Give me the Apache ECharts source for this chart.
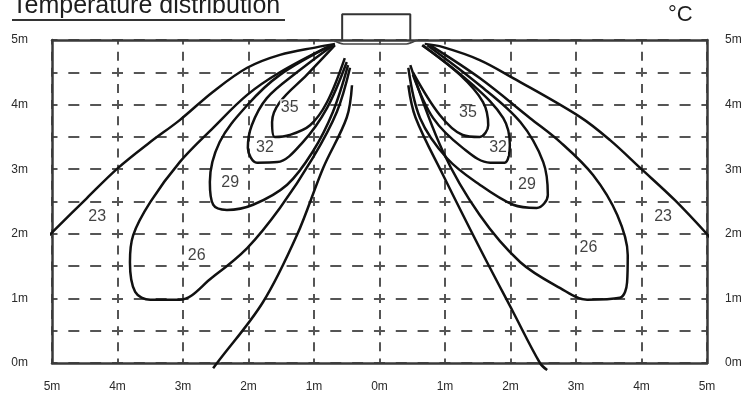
<!DOCTYPE html>
<html>
<head>
<meta charset="utf-8">
<script src="https://cdn.jsdelivr.net/npm/echarts@6/dist/echarts.min.js"></script>
<style>html,body{margin:0;padding:0;background:#fff}#c{width:745px;height:399px}</style>
</head>
<body>
<div id="c"></div>
<script>
// ---- tick labels ----
const xTickLabels = ['5m','4m','3m','2m','1m','0m','1m','2m','3m','4m','5m']; // -5..5
const yTickLabels = ['0m','1m','2m','3m','4m','5m'];

// ---- heater unit (data units, metres) ----
const heaterBox = [[-0.57,5.0],[-0.57,5.40],[0.47,5.40],[0.47,5.0]];
const heaterOutlet = [[-0.71,5.0],[-0.55,4.94],[0.41,4.94],[0.57,5.0]];

// ---- contour lines (x metres, y metres) ----
// 23 °C : open curves
const left23Upper = [[-5.08,1.94],[-4.47,2.55],[-3.99,3.02],[-3.50,3.42],[-3.05,3.76],[-2.54,4.20],[-2.02,4.57],[-1.52,4.77],[-0.95,4.89],[-0.68,4.94]];
const left23Lower = [[-0.42,4.30],[-0.50,3.80],[-0.86,3.02],[-1.26,1.98],[-1.78,0.94],[-2.48,0.0],[-2.54,-0.08]];
const right23Upper = [[0.69,4.94],[0.97,4.89],[1.53,4.69],[2.04,4.41],[3.06,3.81],[3.52,3.45],[3.98,3.02],[4.51,2.52],[5.05,1.94]];
const right23Lower = [[0.44,4.30],[0.55,3.80],[0.97,2.91],[1.53,1.78],[2.04,0.79],[2.45,0.0],[2.56,-0.11]];
// 26 °C
const left26 = [[-0.80,4.89],[-1.52,4.50],[-2.02,4.15],[-2.54,3.64],[-3.05,3.11],[-3.50,2.49],[-3.76,1.98],[-3.81,1.56],[-3.73,1.10],[-3.50,0.98],[-3.05,0.98],[-2.56,1.32],[-2.02,1.78],[-1.52,2.40],[-1.02,3.17],[-0.65,3.89],[-0.45,4.57]];
const right26 = [[0.77,4.92],[1.53,4.41],[2.30,3.79],[2.76,3.42],[3.26,2.91],[3.63,2.29],[3.79,1.67],[3.78,1.25],[3.67,1.01],[3.17,0.98],[2.76,1.16],[2.15,1.56],[1.53,2.29],[0.97,3.27],[0.47,4.61]];
// 29 °C
const left29 = [[-0.73,4.92],[-1.52,4.46],[-2.02,3.99],[-2.44,3.42],[-2.59,2.80],[-2.54,2.45],[-2.33,2.37],[-1.93,2.45],[-1.41,2.76],[-1.02,3.27],[-0.71,3.89],[-0.48,4.61]];
const right29 = [[0.73,4.92],[1.53,4.30],[2.15,3.73],[2.50,3.11],[2.57,2.60],[2.40,2.40],[2.04,2.45],[1.53,2.76],[1.03,3.17],[0.62,3.79],[0.44,4.57]];
// 32 °C
const left32 = [[-0.71,4.92],[-1.26,4.50],[-1.72,4.10],[-1.95,3.68],[-2.01,3.33],[-1.87,3.10],[-1.56,3.11],[-1.17,3.42],[-0.80,3.95],[-0.50,4.66]];
const right32 = [[0.66,4.92],[1.43,4.30],[1.89,3.79],[1.99,3.37],[1.91,3.10],[1.69,3.10],[1.27,3.33],[0.82,3.79],[0.51,4.46]];
// 35 °C
const left35 = [[-0.68,4.92],[-1.11,4.46],[-1.52,4.04],[-1.64,3.73],[-1.60,3.50],[-1.37,3.53],[-1.06,3.68],[-0.80,4.04],[-0.53,4.72]];
const right35 = [[0.65,4.92],[1.23,4.46],[1.58,4.04],[1.66,3.68],[1.53,3.50],[1.27,3.53],[0.92,3.84],[0.51,4.50]];

// ---- contour labels ----
const labelText = ['23','26','29','32','35','23','26','29','32','35'];
const labelX    = [-4.31,-2.79,-2.28,-1.75,-1.37, 4.33,3.19,2.25,1.81,1.35];
const labelY    = [ 2.26, 1.67, 2.80, 3.33, 3.96, 2.26,1.78,2.76,3.33,3.87];

const chart = echarts.init(document.getElementById('c'), null, {renderer:'canvas'});
const lineCol = '#111';
const axisLabelStyle = {fontFamily:'Liberation Sans, Arial, sans-serif', fontSize:12, color:'#2a2a2a'};
function contour(data, clip){
  return {type:'line', data:data, smooth:0.35, showSymbol:false, symbol:'none', clip: clip!==false,
    lineStyle:{color:lineCol, width:2.5}, z:3, silent:true};
}
const yFmt = v => (Math.abs(v-Math.round(v))<1e-6 ? yTickLabels[Math.round(v)] : '');

chart.setOption({
  animation:false,
  backgroundColor:'#fff',
  grid:{left:52, right:38, top:40, bottom:36},
  xAxis:[
    {type:'value', min:-5, max:5, interval:1, position:'bottom',
     axisLine:{show:true, lineStyle:{color:'#3a3a3a', width:2.5}},
     axisTick:{show:false},
     axisLabel:Object.assign({margin:18, formatter:v=>xTickLabels[Math.round(v)+5]}, axisLabelStyle),
     splitLine:{show:true, lineStyle:{color:'#555', width:2, type:[9,7.15], dashOffset:4.5}}},
    {type:'value', min:-5, max:5, interval:1, position:'top',
     axisLine:{show:true, onZero:false, lineStyle:{color:'#3a3a3a', width:2.5}},
     axisTick:{show:false}, axisLabel:{show:false}, splitLine:{show:false}}
  ],
  yAxis:[
    {type:'value', min:0, max:5, interval:0.5, position:'left',
     axisLine:{show:true, onZero:false, lineStyle:{color:'#3a3a3a', width:2.5}},
     axisTick:{show:false},
     axisLabel:Object.assign({margin:24, formatter:yFmt}, axisLabelStyle),
     splitLine:{show:true, lineStyle:{color:'#555', width:2, type:[11,10.83], dashOffset:5.5}}},
    {type:'value', min:0, max:5, interval:0.5, position:'right',
     axisLine:{show:true, onZero:false, lineStyle:{color:'#3a3a3a', width:2.5}},
     axisTick:{show:false},
     axisLabel:Object.assign({margin:18, formatter:yFmt}, axisLabelStyle),
     splitLine:{show:false}}
  ],
  graphic:[
    {type:'text', left:12, top:-6, style:{text:'Temperature distribution', font:'25px "Liberation Sans", Arial, sans-serif', fill:'#1e1e1e'}},
    {type:'line', shape:{x1:12, y1:20, x2:285, y2:20}, style:{stroke:'#333', lineWidth:2}},
    {type:'text', left:668, top:4, style:{text:'°C', font:'22px "Liberation Sans", Arial, sans-serif', fill:'#1e1e1e'}}
  ],
  series:[
    {type:'line', data:heaterBox, showSymbol:false, symbol:'none', clip:false, lineStyle:{color:'#333', width:2}, z:4, silent:true},
    {type:'line', data:heaterOutlet, smooth:0.3, showSymbol:false, symbol:'none', clip:false, lineStyle:{color:'#444', width:1.5}, z:4, silent:true},
    contour(left23Upper,false), contour(left23Lower,false), contour(right23Upper,false), contour(right23Lower,false),
    contour(left26), contour(right26),
    contour(left29), contour(right29),
    contour(left32), contour(right32),
    contour(left35), contour(right35),
    {type:'scatter', symbolSize:0, z:6, silent:true,
     data: labelText.map((t,i)=>({name:t, value:[labelX[i], labelY[i]]})),
     label:{show:true, position:'inside', formatter:p=>p.name, fontFamily:'Liberation Sans, Arial, sans-serif',
            fontSize:16, color:'#111', backgroundColor:'#fff', padding:[0,1]}}
  ]
});
</script>
</body>
</html>
